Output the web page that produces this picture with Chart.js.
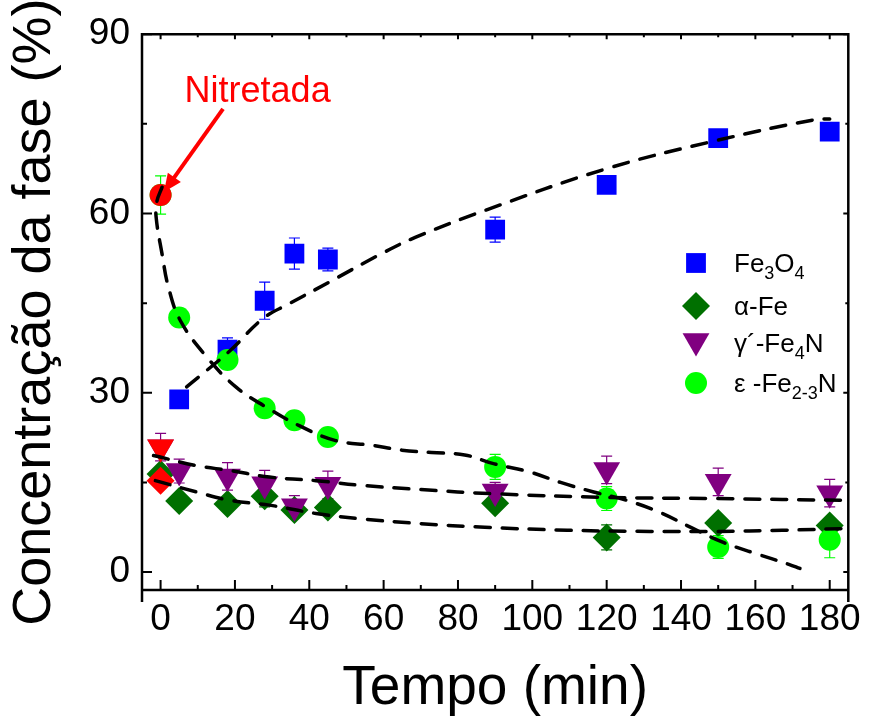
<!DOCTYPE html>
<html>
<head>
<meta charset="utf-8">
<script src="https://cdn.jsdelivr.net/npm/chart.js@4.4.1/dist/chart.umd.min.js"></script>
<style>
  html, body { margin: 0; padding: 0; background: #fff; }
</style>
</head>
<body>
<canvas id="fases" width="869" height="720"></canvas>
<script>
// tempo de tratamento (min)
var tempo = [0, 5, 18, 28, 36, 45, 90, 120, 150, 180];

// concentracao de cada fase (%) e barras de erro
var fe3o4 = [null, 28.9, 37.2, 45.4, 53.3, 52.3, 57.3, 64.8, 72.6, 73.7];
var fe3o4Err = [0, 0.5, 2, 3.1, 2.6, 1.9, 2.1, 0.5, 0.5, 0.5];
var alphaFe = [16.4, 11.9, 11.4, 12.7, 10.4, 10.8, 11.5, 5.8, 8.2, 7.8];
var alphaErr = [1, 1, 1, 1.8, 1, 1, 1, 2.1, 1, 1];
var gammaFe4N = [20.9, 16.9, 16.0, 14.7, 11.0, 14.6, 13.5, 17.1, 15.1, 13.2];
var gammaErr = [2.3, 2, 2.3, 2.3, 1.8, 2.3, 1.5, 2.3, 2.3, 2.3];
var epsFe23N = [63.1, 42.6, 35.5, 27.4, 25.4, 22.6, 17.6, 12.3, 4.2, 5.4];
var epsErr = [3.2, 1, 1, 1, 1, 1, 2.1, 2, 1.9, 3];

// amostra apenas nitretada (t = 0)
var nitretada = [63.1, 20.9, 15.3];

// curvas tracejadas (guia visual)
var fitFe3O4X = [7, 18.6, 27.5, 34.6, 45.3, 59.5, 68.5, 87.2, 120, 149.5, 176, 180];
var fitFe3O4Y = [31, 37, 42.4, 44.9, 48.5, 53.3, 56, 60.5, 67.5, 72.2, 75.7, 75.8];
var fitEpsX = [0.4, -1.0, -1.2, 0.4, 2.1, 5.3, 12.4, 20.4, 28.4, 37.3, 47.1, 56.9, 64.9, 72.9, 81.8, 89.8, 99.6, 107.6, 116.5, 125.4, 134.3, 143.2, 151.2, 160.1, 169, 172];
var fitEpsY = [64.4, 62, 59.4, 53.2, 47.7, 42.1, 36, 30.9, 27.6, 24.5, 22, 21.2, 20.4, 20, 19.6, 18.1, 16.7, 15, 13.4, 12, 10, 7.3, 5, 3.1, 1.3, 0.6];
var fitGammaX = [-1.9, 9.7, 18.6, 29.3, 41.8, 54.2, 70, 89.8, 120, 149.4, 185];
var fitGammaY = [19.5, 17.8, 17, 15.9, 15.3, 14.5, 13.8, 13.1, 12.5, 12.3, 12];
var fitAlphaX = [-1.4, 9.7, 18.6, 29.3, 41.8, 54.2, 70, 87.2, 109.4, 131.6, 149.4, 167.3, 185];
var fitAlphaY = [15.3, 13.4, 12, 11.2, 9.8, 8.9, 8.1, 7.5, 7, 6.8, 6.8, 7, 7.3];

// eixos
var xTicks = [0, 20, 40, 60, 80, 100, 120, 140, 160, 180];
var yTicks = [0, 30, 60, 90];

var FONT = '"Liberation Sans", Arial, sans-serif';

function pts(xs, ys) {
    return xs.map(function (x, i) { return { x: x, y: ys[i] }; });
}

function serie(label, ys, errs, color, style, radius, rot, order) {
    return {
        label: label,
        data: pts(tempo, ys),
        errors: errs,
        errColor: color,
        backgroundColor: color,
        borderColor: color,
        pointStyle: style,
        pointRadius: radius,
        pointHoverRadius: radius,
        pointRotation: rot,
        pointBorderWidth: 0,
        showLine: false,
        order: order
    };
}

function fit(xs, ys) {
    return {
        data: pts(xs, ys),
        showLine: true,
        borderColor: '#000',
        borderWidth: 3.5,
        borderDash: [15, 12],
        borderCapStyle: 'round',
        tension: 0.4,
        pointRadius: 0,
        pointHoverRadius: 0,
        order: 0
    };
}

// barras de erro desenhadas com as escalas do grafico
const errorBars = {
    id: 'errorBars',
    beforeDatasetsDraw(chart) {
        const ctx = chart.ctx, xs = chart.scales.x, ys = chart.scales.y;
        ctx.save();
        chart.data.datasets.forEach(function (ds) {
            if (!ds.errors) return;
            ctx.strokeStyle = ds.errColor;
            ctx.lineWidth = 1.2;
            ds.data.forEach(function (p, i) {
                if (p.y == null || !ds.errors[i]) return;
                const px = xs.getPixelForValue(p.x);
                const top = ys.getPixelForValue(p.y + ds.errors[i]);
                const bot = ys.getPixelForValue(p.y - ds.errors[i]);
                ctx.beginPath();
                ctx.moveTo(px, top); ctx.lineTo(px, bot);
                ctx.moveTo(px - 5.5, top); ctx.lineTo(px + 5.5, top);
                ctx.moveTo(px - 5.5, bot); ctx.lineTo(px + 5.5, bot);
                ctx.stroke();
            });
        });
        ctx.restore();
    }
};

// moldura com ticks para dentro
const frame = {
    id: 'frame',
    afterDraw(chart) {
        const ctx = chart.ctx, a = chart.chartArea, xs = chart.scales.x, ys = chart.scales.y;
        ctx.save();
        ctx.strokeStyle = '#000';
        ctx.lineWidth = 2.5;
        ctx.beginPath();
        ctx.rect(a.left, a.top, a.right - a.left, a.bottom - a.top);
        ctx.moveTo(a.left, a.bottom); ctx.lineTo(a.left, a.bottom + 12);
        ctx.moveTo(a.right, a.bottom); ctx.lineTo(a.right, a.bottom + 12);
        ctx.stroke();
        ctx.lineWidth = 2;
        ctx.beginPath();
        for (let v = 0; v <= 180; v += 10) {
            const px = xs.getPixelForValue(v);
            const major = v % 20 === 0;
            ctx.moveTo(px, a.bottom); ctx.lineTo(px, a.bottom - (major ? 10 : 5));
            ctx.moveTo(px, a.top); ctx.lineTo(px, a.top + (major ? 5 : 3));
        }
        for (let v = 0; v <= 90; v += 15) {
            const py = ys.getPixelForValue(v);
            const major = v % 30 === 0;
            ctx.moveTo(a.left, py); ctx.lineTo(a.left + (major ? 10 : 5), py);
            ctx.moveTo(a.right, py); ctx.lineTo(a.right - (major ? 5 : 3), py);
        }
        ctx.stroke();
        ctx.restore();
    }
};

// anotacao "Nitretada" com seta
const annot = {
    id: 'annot',
    afterDraw(chart) {
        const ctx = chart.ctx, xs = chart.scales.x, ys = chart.scales.y;
        const x0 = xs.getPixelForValue(16.8), y0 = ys.getPixelForValue(77.5);
        const x1 = xs.getPixelForValue(0.9), y1 = ys.getPixelForValue(63.6);
        const ang = Math.atan2(y1 - y0, x1 - x0);
        ctx.save();
        ctx.fillStyle = '#ff0000';
        ctx.strokeStyle = '#ff0000';
        ctx.font = '36px ' + FONT;
        ctx.textAlign = 'center';
        ctx.textBaseline = 'middle';
        ctx.fillText('Nitretada', xs.getPixelForValue(26.1), ys.getPixelForValue(80.3));
        ctx.lineWidth = 4;
        ctx.beginPath();
        ctx.moveTo(x0, y0);
        ctx.lineTo(x1 - Math.cos(ang) * 12, y1 - Math.sin(ang) * 12);
        ctx.stroke();
        ctx.beginPath();
        ctx.moveTo(x1, y1);
        ctx.lineTo(x1 - Math.cos(ang) * 18 + Math.sin(ang) * 8, y1 - Math.sin(ang) * 18 - Math.cos(ang) * 8);
        ctx.lineTo(x1 - Math.cos(ang) * 18 - Math.sin(ang) * 8, y1 - Math.sin(ang) * 18 + Math.cos(ang) * 8);
        ctx.closePath();
        ctx.fill();
        ctx.restore();
    }
};

// legenda com subscritos
var legendText = [
    [['Fe', ''], ['3', 's'], ['O', ''], ['4', 's']],
    [['\u03b1-Fe', '']],
    [['\u03b3\u00b4-Fe', ''], ['4', 's'], ['N', '']],
    [['\u03b5 -Fe', ''], ['2-3', 's'], ['N', '']]
];
const legendBox = {
    id: 'legendBox',
    afterDraw(chart) {
        const ctx = chart.ctx;
        const rows = [263, 306, 343, 383];
        ctx.save();
        for (let i = 0; i < 4; i++) {
            const ds = chart.data.datasets[i];
            ctx.fillStyle = ds.backgroundColor;
            ctx.strokeStyle = ds.backgroundColor;
            Chart.helpers.drawPoint(ctx, {
                pointStyle: ds.pointStyle, radius: ds.pointRadius,
                rotation: ds.pointRotation, borderWidth: 0
            }, 696, i === 2 ? rows[i] - 2 : rows[i]);
            ctx.fillStyle = '#000';
            ctx.textBaseline = 'alphabetic';
            let x = 734;
            const base = rows[i] + 9;
            legendText[i].forEach(function (p) {
                const sub = p[1] === 's';
                ctx.font = (sub ? '18px ' : '26px ') + FONT;
                ctx.fillText(p[0], x, sub ? base + 7 : base);
                x += ctx.measureText(p[0]).width;
            });
        }
        ctx.restore();
    }
};

var datasets = [
    serie('Fe3O4', fe3o4, fe3o4Err, '#0000ff', 'rect', 14, 0, 5),
    serie('\u03b1-Fe', alphaFe, alphaErr, '#007000', 'rectRot', 14, 0, 4),
    serie('\u03b3\u00b4-Fe4N', gammaFe4N, gammaErr, '#800080', 'triangle', 15.5, 180, 3),
    serie('\u03b5 -Fe2-3N', epsFe23N, epsErr, '#00ff00', 'circle', 11, 0, 2),
    {
        label: 'Nitretada',
        data: pts([0, 0, 0], nitretada),
        backgroundColor: '#ff0000',
        pointStyle: ['circle', 'triangle', 'rectRot'],
        pointRadius: [11, 15.5, 14],
        pointHoverRadius: [11, 15.5, 14],
        pointRotation: [0, 180, 0],
        pointBorderWidth: 0,
        showLine: false,
        order: 1
    },
    fit(fitFe3O4X, fitFe3O4Y),
    fit(fitEpsX, fitEpsY),
    fit(fitGammaX, fitGammaY),
    fit(fitAlphaX, fitAlphaY)
];

new Chart(document.getElementById('fases').getContext('2d'), {
    type: 'scatter',
    data: { datasets: datasets },
    options: {
        responsive: false,
        animation: false,
        layout: { padding: { top: 32, right: 16, left: 0, bottom: 0 } },
        plugins: { legend: { display: false }, tooltip: { enabled: false } },
        scales: {
            x: {
                type: 'linear', min: -5, max: 185,
                afterBuildTicks: function (s) { s.ticks = xTicks.map(function (v) { return { value: v }; }); },
                afterFit: function (s) { s.height = 130; },
                grid: { display: false, drawTicks: false },
                border: { display: false },
                ticks: { color: '#000', font: { family: FONT, size: 37 }, padding: 8, maxRotation: 0, autoSkip: false },
                title: { display: true, text: 'Tempo (min)', color: '#000', font: { family: FONT, size: 55, lineHeight: 1 }, padding: { top: 0, bottom: 4 } }
            },
            y: {
                type: 'linear', min: -3, max: 90,
                afterBuildTicks: function (s) { s.ticks = yTicks.map(function (v) { return { value: v }; }); },
                afterFit: function (s) { s.width = 142; },
                grid: { display: false, drawTicks: false },
                border: { display: false },
                ticks: { color: '#000', font: { family: FONT, size: 37 }, padding: 12 },
                title: { display: true, text: 'Concentração da fase (%)', color: '#000', font: { family: FONT, size: 54, lineHeight: 1 }, padding: { top: 8, bottom: 0 } }
            }
        }
    },
    plugins: [errorBars, frame, annot, legendBox]
});
</script>
</body>
</html>
